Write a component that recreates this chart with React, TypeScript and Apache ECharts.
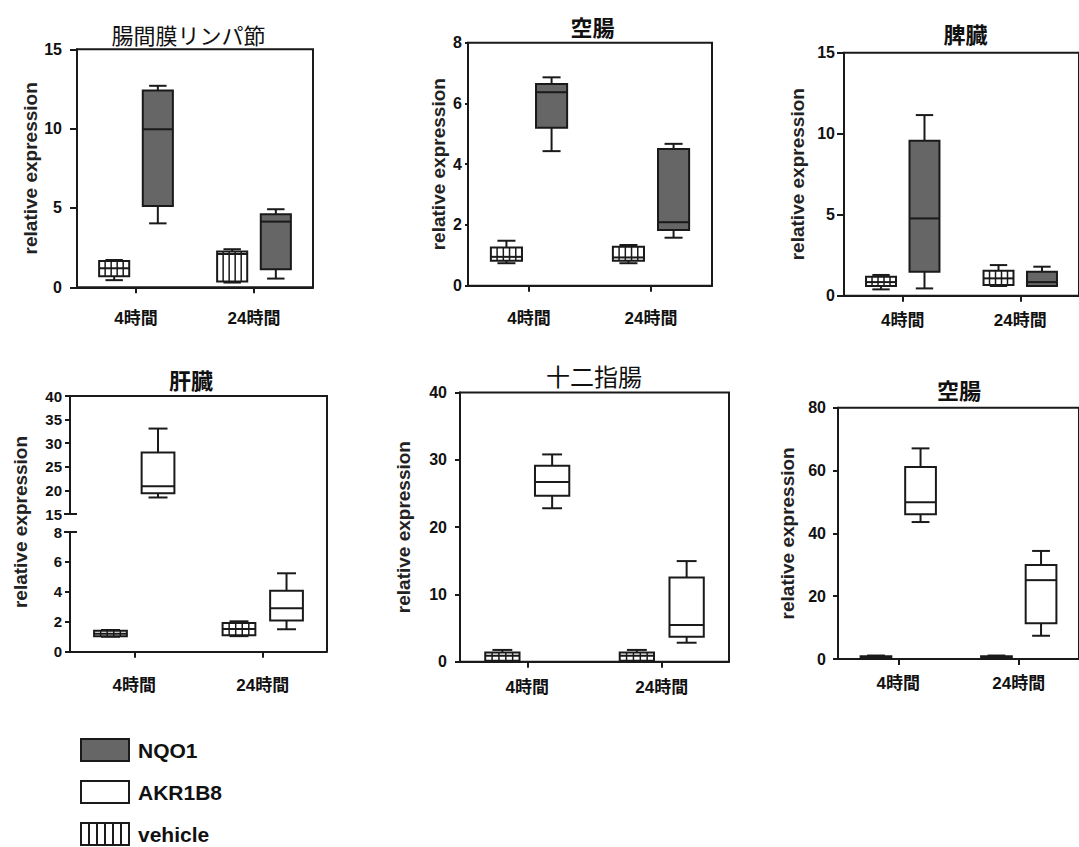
import React, { useEffect, useRef } from 'react';
import * as echarts from 'echarts';

const timeCategories = ['4時間', '24時間'];

// each row: [min, Q1, median, Q3, max] for 4時間 and 24時間
const mesentericVehicle = [[0.45, 0.7, 1.2, 1.65, 1.72], [0.3, 0.36, 2.1, 2.25, 2.4]];
const mesentericNQO1 = [[4.03, 5.13, 9.96, 12.4, 12.7], [0.55, 1.13, 4.14, 4.6, 4.92]];
const jejunumVehicle = [[0.74, 0.82, 0.95, 1.26, 1.48], [0.74, 0.82, 0.93, 1.28, 1.34]];
const jejunumNQO1 = [[4.43, 5.2, 6.37, 6.64, 6.86], [1.58, 1.83, 2.09, 4.5, 4.67]];
const spleenVehicle = [[0.39, 0.6, 0.84, 1.17, 1.28], [0.6, 0.66, 1.07, 1.54, 1.89]];
const spleenNQO1 = [[0.45, 1.48, 4.77, 9.57, 11.15], [0.6, 0.6, 0.84, 1.48, 1.79]];
const liverVehicle = [[1.0, 1.04, 1.2, 1.4, 1.45], [1.04, 1.1, 1.52, 1.92, 2.03]];
const liverAKR1B8 = [[18.5, 19.4, 20.9, 28.05, 33.1], [1.5, 2.09, 2.9, 4.07, 5.24]];
const duodenumVehicle = [[0.1, 0.15, 0.9, 1.35, 1.75], [0.1, 0.15, 0.9, 1.35, 1.75]];
const duodenumAKR1B8 = [[22.8, 24.65, 26.7, 29.1, 30.8], [2.82, 3.7, 5.45, 12.5, 14.95]];
const jejunum2Vehicle = [[0.1, 0.2, 0.6, 0.9, 1.1], [0.1, 0.2, 0.6, 0.9, 1.1]];
const jejunum2AKR1B8 = [[43.6, 46.05, 49.9, 61.1, 67.05], [7.4, 11.35, 25.1, 29.9, 34.4]];

const mesentericTicks = [0, 5, 10, 15];
const jejunumTicks = [0, 2, 4, 6, 8];
const spleenTicks = [0, 5, 10, 15];
const liverUpperTicks = [15, 20, 25, 30, 35, 40];
const liverLowerTicks = [0, 2, 4, 6, 8];
const duodenumTicks = [0, 10, 20, 30, 40];
const jejunum2Ticks = [0, 20, 40, 60, 80];

const panelTitles = ['腸間膜リンパ節', '空腸', '脾臓', '肝臓', '十二指腸', '空腸'];
const legendNames = ['NQO1', 'AKR1B8', 'vehicle'];
const yAxisName = 'relative expression';

const INK = '#1a1a1a';
const NQO1_FILL = '#666666';
const WHITE = '#ffffff';
const LATIN = '"Liberation Sans", Arial, "Noto Sans CJK JP", sans-serif';
const CJK = '"Noto Sans CJK JP", "Liberation Sans", sans-serif';
const OFFSET = 0.185;
const BOXW = 0.255;

function boxRenderer(offsetFrac: number, striped: boolean, fill: string) {
  return (params: any, api: any) => {
    const cat = api.value(0);
    const band = api.size([1, 0])[0];
    const cx = api.coord([cat, api.value(3)])[0] + offsetFrac * band;
    const w = BOXW * band;
    const Y = (i: number) => api.coord([cat, api.value(i)])[1];
    const yMin = Y(1), yQ1 = Y(2), yMed = Y(3), yQ3 = Y(4), yMax = Y(5);
    const x0 = cx - w / 2;
    const x1 = cx + w / 2;
    const cap = w * 0.29;
    const ls = { stroke: INK, lineWidth: 2 };
    const children: any[] = [
      { type: 'line', shape: { x1: cx, y1: yQ3, x2: cx, y2: yMax }, style: ls },
      { type: 'line', shape: { x1: cx - cap, y1: yMax, x2: cx + cap, y2: yMax }, style: ls },
      { type: 'line', shape: { x1: cx, y1: yQ1, x2: cx, y2: yMin }, style: ls },
      { type: 'line', shape: { x1: cx - cap, y1: yMin, x2: cx + cap, y2: yMin }, style: ls },
      { type: 'rect', shape: { x: x0, y: yQ3, width: w, height: yQ1 - yQ3 }, style: { fill, stroke: INK, lineWidth: 2 } },
    ];
    if (striped) {
      for (let k = 1; k <= 4; k++) {
        const x = x0 + (k * w) / 5;
        children.push({ type: 'line', shape: { x1: x, y1: yQ3, x2: x, y2: yQ1 }, style: { stroke: INK, lineWidth: 1.5 } });
      }
    }
    children.push({ type: 'line', shape: { x1: x0, y1: yMed, x2: x1, y2: yMed }, style: ls });
    return { type: 'group', children };
  };
}

type G = { left: number; top: number; width: number; height: number };

type PanelCfg = {
  grid: G;
  ticks: number[];
  vehicle: number[][];
  marker: number[][];
  markerName: string;
  markerFill: string;
  vehicleFill: string;
  title: string;
  titleX: number;
  titleY: number;
  titleWeight: string;
  titleSize: number;
  nameGap: number;
  yLabelMargin: number;
  yTickLen: number;
  xLabelMargin: number;
};

const panels: PanelCfg[] = [
  {
    grid: { left: 77, top: 49.3, width: 236, height: 238 }, ticks: mesentericTicks,
    vehicle: mesentericVehicle, marker: mesentericNQO1, markerName: legendNames[0], markerFill: NQO1_FILL, vehicleFill: WHITE,
    title: panelTitles[0], titleX: 188.5, titleY: 33.5, titleWeight: 'normal', titleSize: 22,
    nameGap: 35, yLabelMargin: 15, yTickLen: 7, xLabelMargin: 23,
  },
  {
    grid: { left: 468, top: 42.7, width: 244, height: 243 }, ticks: jejunumTicks,
    vehicle: jejunumVehicle, marker: jejunumNQO1, markerName: legendNames[0], markerFill: NQO1_FILL, vehicleFill: WHITE,
    title: panelTitles[1], titleX: 592.5, titleY: 26, titleWeight: 'bold', titleSize: 22,
    nameGap: 20, yLabelMargin: 6, yTickLen: 3, xLabelMargin: 24,
  },
  {
    grid: { left: 844, top: 52.7, width: 242, height: 243 }, ticks: spleenTicks,
    vehicle: spleenVehicle, marker: spleenNQO1, markerName: legendNames[0], markerFill: NQO1_FILL, vehicleFill: WHITE,
    title: panelTitles[2], titleX: 965.5, titleY: 32.5, titleWeight: 'bold', titleSize: 22,
    nameGap: 37, yLabelMargin: 9, yTickLen: 7, xLabelMargin: 16,
  },
  {
    grid: { left: 460, top: 392.5, width: 269, height: 269.2 }, ticks: duodenumTicks,
    vehicle: duodenumVehicle, marker: duodenumAKR1B8, markerName: legendNames[1], markerFill: WHITE, vehicleFill: WHITE,
    title: panelTitles[4], titleX: 594, titleY: 375, titleWeight: 'normal', titleSize: 24,
    nameGap: 47, yLabelMargin: 13, yTickLen: 5, xLabelMargin: 17,
  },
  {
    grid: { left: 838, top: 407.7, width: 252, height: 251.3 }, ticks: jejunum2Ticks,
    vehicle: jejunum2Vehicle, marker: jejunum2AKR1B8, markerName: legendNames[1], markerFill: WHITE, vehicleFill: INK,
    title: panelTitles[5], titleX: 959, titleY: 389, titleWeight: 'bold', titleSize: 22,
    nameGap: 41, yLabelMargin: 12, yTickLen: 5, xLabelMargin: 16,
  },
];

// liver (broken axis) layout
const liverUpper: G = { left: 70, top: 396, width: 257, height: 118 };
const liverLower: G = { left: 70, top: 532, width: 257, height: 119.7 };

function buildOption() {
  const grids: any[] = [];
  const xAxes: any[] = [];
  const yAxes: any[] = [];
  const series: any[] = [];
  const graphics: any[] = [];

  const addGrid = (
    g: G, ticks: number[], showBorder: boolean, showX: boolean,
    name: string | null, nameGap: number, yLabelMargin: number, yTickLen: number, xLabelMargin: number,
    compact?: boolean
  ) => {
    const idx = grids.length;
    grids.push({
      left: g.left, top: g.top, width: g.width, height: g.height,
      show: showBorder, borderColor: INK, borderWidth: 2, backgroundColor: 'transparent',
    });
    xAxes.push({
      gridIndex: idx, type: 'category', data: timeCategories, boundaryGap: true, show: showX,
      axisLine: { show: true, onZero: false, lineStyle: { color: INK, width: 2 } },
      axisTick: { show: true, alignWithLabel: true, length: 6, lineStyle: { color: INK, width: 2 } },
      axisLabel: { margin: xLabelMargin, fontSize: 17, fontWeight: 'bold', color: '#111', fontFamily: LATIN },
      splitLine: { show: false },
    });
    const yLabel: any = { margin: yLabelMargin, fontSize: 16, fontWeight: 'bold', color: '#111', fontFamily: LATIN };
    if (compact) {
      yLabel.fontSize = 15;
      yLabel.lineHeight = 14;
    }
    yAxes.push({
      gridIndex: idx, type: 'value', min: ticks[0], max: ticks[ticks.length - 1], interval: ticks[1] - ticks[0],
      axisLine: { show: true, onZero: false, lineStyle: { color: INK, width: 2 } },
      axisTick: { show: true, length: yTickLen, lineStyle: { color: INK, width: 2 } },
      axisLabel: yLabel,
      splitLine: { show: false },
      name: name || '', nameLocation: 'middle', nameGap,
      nameTextStyle: { fontSize: 19, fontWeight: 'bold', color: '#222', fontFamily: LATIN },
    });
    return idx;
  };

  const addBoxSeries = (gi: number, name: string, rows: number[][], offset: number, striped: boolean, fill: string, filter?: (d: number[]) => boolean) => {
    let data = rows.map((r, i) => [i, ...r]);
    if (filter) data = data.filter(filter);
    series.push({
      type: 'custom', name, xAxisIndex: gi, yAxisIndex: gi, data,
      encode: { x: 0, y: [1, 2, 3, 4, 5] },
      itemStyle: { color: fill, borderColor: INK },
      renderItem: boxRenderer(offset, striped, fill),
      silent: true, z: 3,
    });
  };

  const titleText = (text: string, x: number, y: number, weight: string, size: number) => {
    graphics.push({
      type: 'text', x, y, silent: true,
      style: { text, fontSize: size, fontWeight: weight, fill: '#111', fontFamily: CJK, align: 'center', verticalAlign: 'middle' },
    });
  };

  panels.forEach((p) => {
    const gi = addGrid(p.grid, p.ticks, true, true, yAxisName, p.nameGap, p.yLabelMargin, p.yTickLen, p.xLabelMargin);
    addBoxSeries(gi, legendNames[2], p.vehicle, -OFFSET, true, p.vehicleFill);
    addBoxSeries(gi, p.markerName, p.marker, OFFSET, false, p.markerFill);
    titleText(p.title, p.titleX, p.titleY, p.titleWeight, p.titleSize);
  });

  // liver with broken y axis
  const up = addGrid(liverUpper, liverUpperTicks, false, false, null, 0, 8, 5, 0, true);
  const lo = addGrid(liverLower, liverLowerTicks, false, true, null, 0, 8, 5, 25, true);
  const upMin = liverUpperTicks[0];
  const loMax = liverLowerTicks[liverLowerTicks.length - 1];
  addBoxSeries(up, legendNames[1], liverAKR1B8, OFFSET, false, WHITE, (d) => d[1] >= upMin);
  addBoxSeries(lo, legendNames[2], liverVehicle, -OFFSET, true, WHITE);
  addBoxSeries(lo, legendNames[1], liverAKR1B8, OFFSET, false, WHITE, (d) => d[5] <= loMax);
  titleText(panelTitles[3], 191, 379, 'bold', 22);
  const lRight = liverUpper.left + liverUpper.width;
  const lBottom = liverLower.top + liverLower.height;
  const frame = { stroke: INK, lineWidth: 2 };
  graphics.push({ type: 'line', silent: true, shape: { x1: liverUpper.left - 1, y1: liverUpper.top, x2: lRight + 1, y2: liverUpper.top }, style: frame });
  graphics.push({ type: 'line', silent: true, shape: { x1: lRight, y1: liverUpper.top, x2: lRight, y2: lBottom }, style: frame });
  graphics.push({ type: 'line', silent: true, shape: { x1: liverUpper.left - 6, y1: liverUpper.top + liverUpper.height, x2: liverUpper.left + 7, y2: liverUpper.top + liverUpper.height }, style: frame });
  graphics.push({ type: 'line', silent: true, shape: { x1: liverLower.left - 6, y1: liverLower.top, x2: liverLower.left + 7, y2: liverLower.top }, style: frame });
  graphics.push({
    type: 'text', x: 20, y: 522, rotation: Math.PI / 2, silent: true,
    style: { text: yAxisName, fontSize: 19, fontWeight: 'bold', fill: '#222', fontFamily: LATIN, align: 'center', verticalAlign: 'middle' },
  });

  const vehicleIcon = 'path://M0,0H48V22H0Z M8,0V22 M16,0V22 M24,0V22 M32,0V22 M40,0V22';

  return {
    animation: false,
    backgroundColor: '#ffffff',
    grid: grids,
    xAxis: xAxes,
    yAxis: yAxes,
    series,
    graphic: graphics,
    legend: {
      orient: 'vertical', left: 80, top: 738, height: 110, padding: 0,
      itemWidth: 48, itemHeight: 22, itemGap: 18, selectedMode: false,
      textStyle: { fontSize: 21, lineHeight: 22, fontWeight: 'bold', color: '#111', fontFamily: LATIN, padding: [0, 0, 0, 4] },
      data: [
        { name: legendNames[0], icon: 'rect', itemStyle: { color: NQO1_FILL, borderColor: INK, borderWidth: 2 } },
        { name: legendNames[1], icon: 'rect', itemStyle: { color: WHITE, borderColor: INK, borderWidth: 2 } },
        { name: legendNames[2], icon: vehicleIcon, itemStyle: { color: WHITE, borderColor: INK, borderWidth: 2 } },
      ],
    },
  };
}

export default function App() {
  const ref = useRef<HTMLDivElement>(null);
  useEffect(() => {
    if (!ref.current) return;
    const chart = echarts.init(ref.current, undefined, { renderer: 'svg' });
    chart.setOption(buildOption() as any);
    return () => chart.dispose();
  }, []);
  return <div ref={ref} style={{ position: 'absolute', left: 0, top: 0, width: 1079, height: 847, background: '#fff' }} />;
}
